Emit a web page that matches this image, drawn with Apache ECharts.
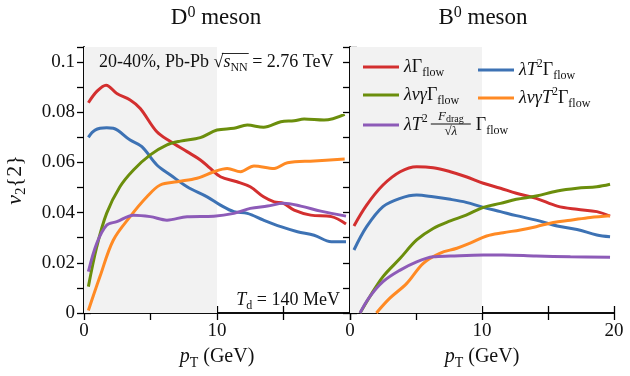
<!DOCTYPE html>
<html><head><meta charset="utf-8">
<script src="https://cdn.jsdelivr.net/npm/echarts@6/dist/echarts.min.js"></script>
<style>html,body{margin:0;padding:0;background:#fff}#c{width:630px;height:376px}</style>
</head><body><div id="c"></div>
<script>
// ---------- data (pT in GeV, v2{2}) ----------
const D_lamG = [[0.33,0.0838],[1.0,0.0885],[1.66,0.0908],[2.47,0.0875],[3.47,0.0849],[4.23,0.0815],[5.48,0.0722],[6.5,0.0683],[7.75,0.0643],[8.75,0.061],[9.5,0.0576],[10.26,0.0543],[11.5,0.0523],[12.5,0.0503],[13.5,0.0463],[14.3,0.0443],[15.0,0.0437],[15.8,0.041],[17.05,0.039],[18.6,0.0384],[19.7,0.0355]];
const D_lamT2G = [[0.33,0.070],[0.83,0.0729],[1.7,0.0738],[2.2,0.0736],[3.47,0.0689],[4.35,0.0663],[5.48,0.059],[6.5,0.055],[7.75,0.0503],[9.26,0.0463],[10.26,0.043],[11.27,0.0404],[12.28,0.0397],[13.5,0.037],[14.8,0.0344],[16.05,0.0324],[17.3,0.031],[18.6,0.0284],[19.7,0.0284]];
const D_lamVgG = [[0.33,0.0105],[0.96,0.0264],[1.7,0.0397],[2.7,0.0503],[3.72,0.057],[4.98,0.063],[6.24,0.067],[7.25,0.0685],[8.75,0.0699],[10.0,0.0729],[11.27,0.0736],[12.28,0.0749],[13.5,0.074],[14.8,0.0762],[15.8,0.0766],[16.55,0.0773],[18.05,0.0769],[19.6,0.0792]];
const D_lamVgT2G = [[0.33,0.001],[1.2,0.0145],[2.2,0.029],[3.47,0.0384],[4.73,0.0463],[5.73,0.051],[7.0,0.0523],[8.5,0.0537],[9.76,0.0563],[10.77,0.0576],[11.77,0.0563],[12.78,0.0586],[14.3,0.0576],[15.3,0.0599],[17.3,0.0606],[19.6,0.0614]];
const D_lamT2FG = [[0.33,0.0165],[0.96,0.0278],[1.7,0.035],[2.47,0.0364],[3.72,0.039],[4.98,0.0384],[6.24,0.037],[7.75,0.0384],[9.76,0.0386],[11.27,0.0397],[12.5,0.0417],[13.8,0.0426],[15.0,0.0437],[16.3,0.0426],[17.8,0.0406],[19.7,0.0386]];

const B_lamG = [[0.3,0.0347],[1.26,0.043],[2.5,0.051],[3.8,0.0563],[5.05,0.0583],[6.3,0.0579],[7.6,0.0563],[8.8,0.0543],[10.1,0.0517],[11.4,0.0497],[12.6,0.0477],[14.1,0.0457],[15.7,0.0426],[17.2,0.0413],[18.7,0.0404],[19.7,0.0386]];
const B_lamT2G = [[0.3,0.0251],[1.26,0.0344],[2.5,0.0424],[3.8,0.0457],[5.05,0.047],[6.3,0.0463],[7.6,0.0453],[8.8,0.0441],[10.1,0.0421],[11.4,0.0404],[12.6,0.0388],[14.1,0.037],[15.7,0.0347],[17.2,0.0333],[18.7,0.0311],[19.7,0.0304]];
const B_lamVgG = [[0.76,0.0],[1.5,0.0065],[2.5,0.0145],[3.8,0.0218],[5.05,0.0291],[6.3,0.0337],[7.6,0.0367],[8.8,0.039],[10.1,0.0421],[11.4,0.0437],[12.6,0.0453],[14.1,0.0466],[15.7,0.0486],[17.2,0.0497],[18.7,0.0503],[19.7,0.0513]];
const B_lamVgT2G = [[2.0,0.0],[3.0,0.0058],[4.3,0.0118],[5.55,0.0198],[6.8,0.0238],[8.1,0.0258],[9.1,0.0278],[10.35,0.0307],[11.6,0.032],[12.9,0.0331],[14.1,0.0344],[15.4,0.0361],[16.7,0.037],[18.2,0.0381],[19.7,0.0388]];
const B_lamT2FG = [[0.76,0.0],[1.5,0.0065],[2.5,0.0125],[3.8,0.0171],[5.05,0.0204],[6.3,0.0224],[7.6,0.0227],[10.1,0.0231],[11.6,0.0231],[14.1,0.0227],[16.7,0.0224],[19.7,0.0222]];

const seriesNames = ['lamG','lamT2G','lamVgG','lamVgT2G','lamT2FG'];
const seriesColors = ['#d32f2f','#3d72b4','#6b8e0c','#ff8a24','#8d5bb8'];
const panelData = [[D_lamG,D_lamT2G,D_lamVgG,D_lamVgT2G,D_lamT2FG],[B_lamG,B_lamT2G,B_lamVgG,B_lamVgT2G,B_lamT2FG]];
const panelTitles = ['D{sup|0} meson','B{sup|0} meson'];
const xTickLabels = [[0,10],[0,10,20]];
const yTickLabels = [0,0.02,0.04,0.06,0.08,0.1];
const shadedRange = [0,10];

// ---------- styling ----------
const FONT = '"Liberation Serif","Times New Roman",serif';
const INK = '#111';
function rich(base){
  return {
    a:{fontFamily:FONT,fontSize:base,color:INK,lineHeight:base+6},
    i:{fontFamily:FONT,fontSize:base,fontStyle:'italic',color:INK,lineHeight:base+6},
    sub:{fontFamily:FONT,fontSize:Math.round(base*0.68),color:INK,verticalAlign:'bottom',padding:[Math.round(base*0.35),0,0,0]},
    sup:{fontFamily:FONT,fontSize:Math.round(base*0.68),color:INK,verticalAlign:'top',padding:[0,0,Math.round(base*0.45),0]},
    gap:{width:48,fontSize:base,lineHeight:base+6}
  };
}
const cv = document.createElement('canvas').getContext('2d');
function tw(t,size,italic){cv.font=(italic?'italic ':'')+size+'px '+FONT;return cv.measureText(t).width;}

const grids = [{left:84,top:47,width:266,height:266},{left:350,top:47,width:264,height:266}];
const YMAX = 0.106;

const xAxes=[], yAxes=[];
grids.forEach((g,p)=>{
  const lineS={show:true,lineStyle:{color:'#000',width:1.6}};
  const tickS={show:true,inside:true,length:7,lineStyle:{color:'#000',width:1.3}};
  xAxes.push({gridIndex:p,type:'value',min:0,max:20,interval:5,position:'bottom',axisLine:lineS,axisTick:tickS,splitLine:{show:false},
    axisLabel:{margin:9,fontFamily:FONT,fontSize:19,color:INK,formatter:v=>xTickLabels[p].indexOf(v)>=0?String(v):''},
    name:'{i|p}{sub|T} (GeV)',nameLocation:'middle',nameGap:31,
    nameTextStyle:{fontFamily:FONT,fontSize:20,color:INK,rich:rich(20)}});
  xAxes.push({gridIndex:p,type:'value',min:0,max:20,interval:5,position:'top',axisLine:lineS,axisTick:tickS,splitLine:{show:false},axisLabel:{show:false}});
  yAxes.push({gridIndex:p,type:'value',min:0,max:YMAX,interval:0.01,position:'left',axisLine:lineS,axisTick:tickS,splitLine:{show:false},
    axisLabel:{show:p===0,margin:9,fontFamily:FONT,fontSize:19,color:INK,showMaxLabel:false,
      formatter:v=>{const hit=yTickLabels.find(t=>Math.abs(t-v)<1e-6);return hit===undefined?'':String(hit);}},
    name:p===0?'{i|v}{sub|2}{2}':'',nameLocation:'middle',nameGap:55,nameRotate:90,
    nameTextStyle:{fontFamily:FONT,fontSize:22,color:INK,rich:rich(22)}});
  yAxes.push({gridIndex:p,type:'value',min:0,max:YMAX,interval:0.01,position:'right',axisLine:lineS,axisTick:tickS,splitLine:{show:false},axisLabel:{show:false}});
});

const series=[];
[0,1].forEach(p=>{
  series.push({type:'line',xAxisIndex:2*p,yAxisIndex:2*p,data:[],z:1,silent:true,
    markArea:{silent:true,itemStyle:{color:'#f2f2f2'},data:[[{xAxis:shadedRange[0]},{xAxis:shadedRange[1]}]]}});
  panelData[p].forEach((d,k)=>{
    series.push({type:'line',name:seriesNames[k],xAxisIndex:2*p,yAxisIndex:2*p,data:d,smooth:0.35,showSymbol:false,z:3,
      clip:true,lineStyle:{color:seriesColors[k],width:3},itemStyle:{color:seriesColors[k]}});
  });
});

const legendLabels = {
  lamG:'{i|λ}{a|Γ}{sub|flow}',
  lamT2G:'{i|λT}{sup|2}{a|Γ}{sub|flow}',
  lamVgG:'{i|λvγ}{a|Γ}{sub|flow}',
  lamVgT2G:'{i|λvγT}{sup|2}{a|Γ}{sub|flow}',
  lamT2FG:'{i|λT}{sup|2}{gap|}{a|Γ}{sub|flow}'
};
const LF=18;
const IW=36, ITG=4;
const legendPos = {lamG:[363,58],lamT2G:[478,58],lamVgG:[363,86],lamVgT2G:[478,86],lamT2FG:[363,113]};
const legends = seriesNames.map(n=>({data:[n],left:legendPos[n][0],top:legendPos[n][1],padding:0,icon:'rect',itemWidth:IW,itemHeight:3,itemGap:0,itemTextGap:ITG,
  selectedMode:false,formatter:nm=>legendLabels[nm],textStyle:{fontFamily:FONT,fontSize:LF,color:INK,rich:rich(LF)}}));

// fraction F_drag / sqrt(lambda) inside the purple legend entry
const fx0 = 363+IW+ITG+tw('λT',LF,true)+tw('2',Math.round(LF*0.68),false);
const fracW = 40;
const fcx = fx0 + 24;
const rowC = 113 + (LF+6)/2;

// sqrt(s_NN) overline positions
const AF=18;
const annX=99, annY=62;
const w1 = tw('20-40%, Pb-Pb ',AF,false), wr = tw('√',AF,false), ws = tw('s',AF,true), wn = tw('NN',Math.round(AF*0.68),false);

const graphic = [
  {type:'text',x:216,y:18,style:{text:panelTitles[0],align:'center',verticalAlign:'middle',fontFamily:FONT,fontSize:23,fill:INK,rich:rich(23)}},
  {type:'text',x:483,y:18,style:{text:panelTitles[1],align:'center',verticalAlign:'middle',fontFamily:FONT,fontSize:23,fill:INK,rich:rich(23)}},
  {type:'text',x:annX,y:annY,z:10,style:{text:'{a|20-40%, Pb-Pb √}{i|s}{sub|NN}{a| = 2.76 TeV}',align:'left',verticalAlign:'middle',fontFamily:FONT,fontSize:AF,fill:INK,rich:rich(AF)}},
  {type:'line',z:10,shape:{x1:annX+w1+wr*0.85,y1:annY-8.5,x2:annX+w1+wr+ws+wn+1,y2:annY-8.5},style:{stroke:INK,lineWidth:0.9}},
  {type:'text',x:340,y:300,z:10,style:{text:'{i|T}{sub|d}{a| = 140 MeV}',align:'right',verticalAlign:'middle',fontFamily:FONT,fontSize:18,fill:INK,rich:rich(18)}},
  {type:'text',x:fcx,y:rowC-8,z:10,style:{text:'{i|F}{sub|drag}',align:'center',verticalAlign:'middle',fontFamily:FONT,fontSize:13,fill:INK,rich:{
     i:{fontFamily:FONT,fontSize:13,fontStyle:'italic',color:INK,lineHeight:15},
     sub:{fontFamily:FONT,fontSize:10,color:INK,verticalAlign:'bottom',padding:[4,0,0,0]}}}},
  {type:'line',z:10,shape:{x1:fcx-fracW/2,y1:rowC-1,x2:fcx+fracW/2,y2:rowC-1},style:{stroke:INK,lineWidth:1}},
  {type:'text',x:fcx,y:rowC+7,z:10,style:{text:'√λ',align:'center',verticalAlign:'middle',fontFamily:FONT,fontSize:13,fill:INK,fontStyle:'italic'}}
];

const chart = echarts.init(document.getElementById('c'),null,{renderer:'canvas'});
chart.setOption({
  animation:false,
  backgroundColor:'#fff',
  grid:grids,
  xAxis:xAxes,
  yAxis:yAxes,
  legend:legends,
  series:series,
  graphic:graphic
});
</script>
</body></html>
